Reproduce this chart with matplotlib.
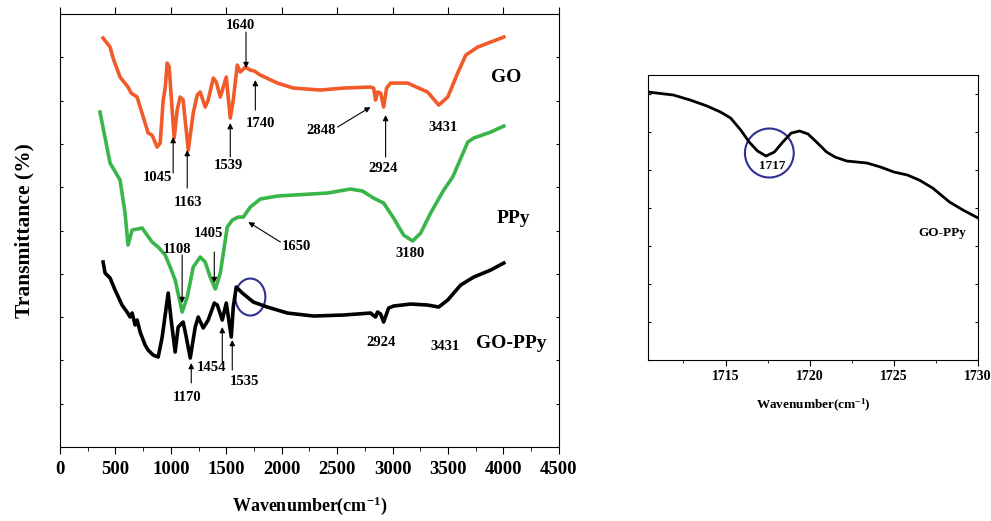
import numpy as np
import matplotlib
matplotlib.use("Agg")
import matplotlib.pyplot as plt
from matplotlib.patches import Ellipse

plt.rcParams["font.family"] = ["Liberation Serif", "DejaVu Serif"]
plt.rcParams["font.weight"] = "bold"
plt.rcParams["mathtext.fontset"] = "custom"
plt.rcParams["mathtext.rm"] = "Liberation Serif:bold"
plt.rcParams["mathtext.default"] = "rm"

# GO spectrum (wavenumber, transmittance in arbitrary offset units)
go_wn = [389, 452, 479, 542, 614, 642, 669, 696, 723, 768, 795, 831, 876, 904, 931,
         949, 967, 985, 1012, 1030, 1057, 1084, 1111, 1157, 1202, 1238, 1265, 1310,
         1337, 1383, 1410, 1446, 1500, 1536, 1563, 1599, 1626, 1672, 1717, 1753, 1807,
         1961, 2105, 2349, 2557, 2801, 2829, 2846, 2864, 2892, 2919, 2946, 2982, 3135,
         3316, 3416, 3497, 3587, 3660, 3768, 3885, 4003]
go_t = [409, 400, 389, 370, 360, 354, 352, 350, 340, 324, 314, 312, 300, 304, 347,
        359, 384, 380, 337, 309, 337, 350, 347, 297, 334, 352, 355, 340,
        347, 369, 365, 350, 370, 329, 347, 382, 375, 380, 377, 376, 372,
        364, 359, 357, 359, 360, 359, 347, 355, 354, 340, 359, 364, 364,
        355, 342, 350, 374, 392, 400, 405, 410]

# PPy spectrum
ppy_wn = [361, 452, 542, 587, 614, 651, 696, 741, 786, 831, 886, 949, 994, 1039, 1102,
          1148, 1202, 1265, 1310, 1355, 1401, 1446, 1509, 1554, 1608, 1654, 1717, 1807,
          1961, 2259, 2413, 2620, 2729, 2828, 2919, 3009, 3099, 3181, 3253, 3343, 3461,
          3542, 3678, 3732, 3885, 4003]
ppy_t = [335, 284, 267, 234, 202, 217, 218, 219, 212, 205, 200, 192, 180, 167, 135,
         150, 180, 190, 185, 170, 158, 174, 220, 227, 230, 230, 240, 248,
         251, 253, 254, 258, 256, 249, 244, 229, 212, 206, 214, 234, 257,
         270, 305, 309, 315, 321]

# GO-PPy spectrum
gp_wn = [389, 407, 452, 497, 560, 605, 633, 651, 678, 696, 723, 768, 795, 840, 886,
         922, 949, 976, 1003, 1039, 1066, 1111, 1139, 1175, 1220, 1247, 1292, 1337,
         1392, 1419, 1464, 1500, 1545, 1563, 1590, 1645, 1744, 1870, 2051, 2286, 2557,
         2801, 2846, 2864, 2892, 2919, 2964, 3009, 3163, 3316, 3416, 3497, 3614, 3732,
         3885, 4003]
gp_t = [185, 174, 169, 157, 142, 135, 130, 134, 122, 127, 115, 102, 97, 92, 90,
        110, 132, 154, 127, 95, 120, 125, 110, 89, 120, 130, 119, 127,
        144, 142, 127, 144, 110, 140, 160, 154, 145, 140, 134, 131, 132,
        134, 130, 135, 133, 125, 139, 141, 143, 142, 140, 147, 162, 170,
        177, 184]

# zoomed GO-PPy region
zoom_wn = [1710.4, 1711.9, 1712.9, 1713.9, 1714.7, 1715.3, 1715.9, 1716.4, 1716.9, 1717.4,
           1717.9, 1718.4, 1718.9, 1719.4, 1719.9, 1720.4, 1721.0, 1721.5, 1722.2, 1723.4,
           1724.2, 1725.0, 1725.8, 1726.5, 1727.3, 1728.3, 1729.1, 1730.0]
zoom_t = [268, 265, 260, 254, 248, 242, 230, 218, 209, 204,
          208, 218, 227, 229, 226, 218, 208, 203, 199, 197,
          193, 188, 185, 180, 172, 158, 150, 142]

# peak labels: (text, text position, arrow tail, arrow head)
labels = [
    ("1640", (1627, 422), (1678, 415), (1678, 379)),
    ("1740", (1807, 324), (1762, 337), (1762, 367)),
    ("1045", (876, 270), (1021, 274), (1021, 310)),
    ("1163", (1157, 245), (1148, 259), (1148, 297)),
    ("1539", (1518, 282), (1536, 290), (1536, 324)),
    ("2848", (2358, 317), (2503, 320), (2801, 340)),
    ("2924", (2910, 279), (2937, 290), (2937, 332)),
    ("3431", (3452, 320), None, None),
    ("3180", (3154, 194), None, None),
    ("1650", (2132, 201), (1988, 205), (1699, 225)),
    ("1108", (1057, 198), (1102, 192), (1102, 144)),
    ("1405", (1337, 214), (1392, 195), (1392, 164)),
    ("1454", (1364, 80), (1464, 85), (1464, 120)),
    ("1170", (1148, 50), (1184, 64), (1184, 84)),
    ("1535", (1663, 66), (1554, 77), (1554, 107)),
    ("2924", (2892, 105), None, None),
    ("3431", (3470, 101), None, None),
]
names = [("GO", (4021, 370)), ("PPy", (4093, 229)), ("GO-PPy", (4066, 104))]

fig = plt.figure(figsize=(9.91, 5.21), dpi=100)
ax = fig.add_axes([0.0605, 0.142, 0.5035, 0.831])
ax.plot(go_wn, go_t, color="#F15A29", lw=2.6, solid_joinstyle="round")
ax.plot(ppy_wn, ppy_t, color="#39B54A", lw=2.6, solid_joinstyle="round")
ax.plot(gp_wn, gp_t, color="black", lw=2.6, solid_joinstyle="round")

for txt, pos, tail, head in labels:
    ax.text(pos[0], pos[1], txt, ha="center", va="center", fontsize=10.5, fontweight="bold")
    if tail is not None:
        ax.annotate("", xy=head, xytext=tail,
                    arrowprops=dict(arrowstyle="-|>", color="black", lw=0.8,
                                    mutation_scale=8, shrinkA=0, shrinkB=0))
for txt, pos in names:
    ax.text(pos[0], pos[1], txt, ha="center", va="center", fontsize=14, fontweight="bold")

ax.add_patch(Ellipse((1717, 150), 271, 37, fill=False, edgecolor="#2E3192", lw=1.5))

ax.set_xlim(0, 4500)
ax.set_ylim(0, 433)
ax.set_xticks(np.arange(0, 4501, 500))
ax.set_xticks(np.arange(0, 4501, 250), minor=True)
ax.set_yticks(np.linspace(0, 433, 11))
ax.set_yticklabels([])
ax.tick_params(axis="x", which="both", direction="out", labelsize=13.5, pad=5)
ax.tick_params(axis="x", which="major", length=5)
ax.tick_params(axis="x", which="minor", length=3)
ax.tick_params(axis="y", direction="in", length=2, right=True)
ax.tick_params(top=True, which="major")
for lab in ax.get_xticklabels():
    lab.set_fontweight("bold")
ax.set_xlabel("Wavenumber(cm$^{-1}$)", fontsize=13, fontweight="bold", labelpad=12)
ax.set_ylabel("Transmittance (%)", fontsize=15.5, fontweight="bold", labelpad=15)

# inset zoom panel
ax2 = fig.add_axes([0.654, 0.309, 0.333, 0.547])
ax2.plot(zoom_wn, zoom_t, color="black", lw=2.0)
ax2.add_patch(Ellipse((1717.6, 207), 2.9, 49, fill=False, edgecolor="#2E3192", lw=1.5))
ax2.text(1717.8, 194, "1717", ha="center", va="center", fontsize=9.5, fontweight="bold")
ax2.text(1727.9, 127, "GO-PPy", ha="center", va="center", fontsize=9.5, fontweight="bold")
ax2.set_xlim(1710.4, 1730)
ax2.set_ylim(0, 285)
ax2.set_xticks([1715, 1720, 1725, 1730])
ax2.set_xticks(np.arange(1712.5, 1730, 2.5), minor=True)
ax2.set_yticks(np.arange(0, 285, 38))
ax2.set_yticklabels([])
ax2.tick_params(axis="x", which="both", direction="out", labelsize=10)
ax2.tick_params(axis="x", which="major", length=4)
ax2.tick_params(axis="x", which="minor", length=2.5)
ax2.tick_params(axis="y", direction="in", length=2, right=True)
for lab in ax2.get_xticklabels():
    lab.set_fontweight("bold")
ax2.set_xlabel("Wavenumber(cm$^{-1}$)", fontsize=9.5, fontweight="bold", labelpad=10)

fig.savefig("out.png", dpi=100)
